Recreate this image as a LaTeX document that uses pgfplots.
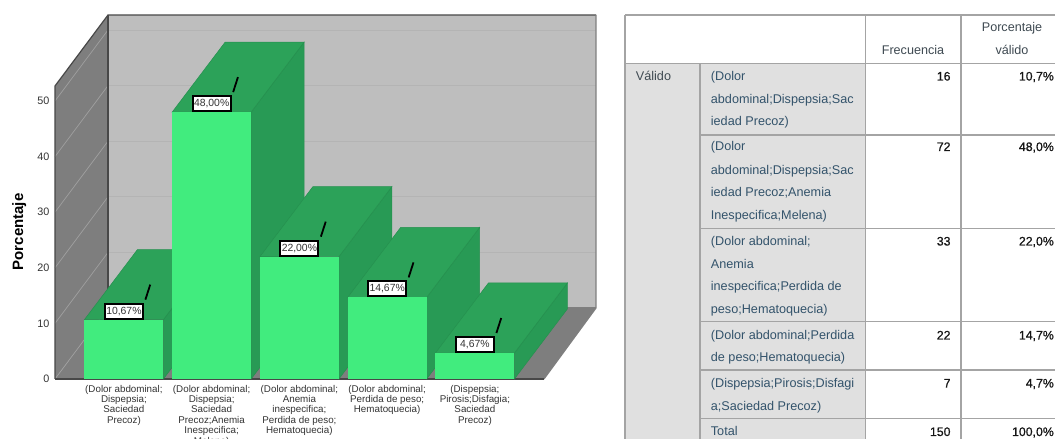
\documentclass[border=0pt]{standalone}
\usepackage{pgfplots}
\usepackage{fontspec}
\setmainfont{Liberation Sans}
\newfontfamily\semib[FakeBold=0.7]{Liberation Sans}
\pgfplotsset{compat=1.18}
\definecolor{front}{HTML}{41EC7E}
\definecolor{topg}{HTML}{2CA259}
\definecolor{sideg}{HTML}{289A55}
\definecolor{edgeg}{HTML}{26904F}
\definecolor{wallb}{HTML}{BEBEBE}
\definecolor{wallg}{HTML}{B4B4B4}
\definecolor{walll}{HTML}{7E7E7E}
\definecolor{walld}{HTML}{A0A0A0}
\definecolor{edged}{HTML}{484848}
\definecolor{ticktxt}{HTML}{333333}
\definecolor{tabline}{HTML}{A4A4A4}
\definecolor{tabfill}{HTML}{E0E0E0}
\definecolor{tabhead}{HTML}{3F4A52}
\definecolor{tabrow}{HTML}{33536B}
\definecolor{tabval}{HTML}{151515}
\begin{document}
\begin{tikzpicture}[x=1pt,y=1pt]
\path[use as bounding box,fill=white] (0,0) rectangle (1055,439);
\begin{axis}[
  at={(55pt,60pt)},
  scale only axis,width=541pt,height=364pt,
  xmin=-0.785,xmax=5.38,ymin=0,ymax=65.47,
  clip=false,
  axis line style={draw=none},
  major tick length=0pt,
  xtick={0,1,2,3,4},
  xticklabels={
    {(Dolor abdominal;\\Dispepsia;\\Saciedad\\Precoz)},
    {(Dolor abdominal;\\Dispepsia;\\Saciedad\\Precoz;Anemia\\Inespecifica;\\Melena)},
    {(Dolor abdominal;\\Anemia\\inespecifica;\\Perdida de peso;\\Hematoquecia)},
    {(Dolor abdominal;\\Perdida de peso;\\Hematoquecia)},
    {(Dispepsia;\\Pirosis;Disfagia;\\Saciedad\\Precoz)}},
  xticklabel style={align=center,text=ticktxt,anchor=north,yshift=-2.5pt,
    font=\fontsize{9.8}{10.4}\selectfont},
  ytick={0,10,20,30,40,50},
  yticklabel style={text=ticktxt,font=\fontsize{10.8}{12}\selectfont,xshift=-2pt},
  /pgf/number format/assume math mode=true,
  ylabel={Porcentaje},
  ylabel style={at={(axis description cs:-0.066,0.404)},anchor=center,
    font=\fontsize{15}{17}\selectfont\bfseries},
]
% back wall, left wall, floor
\addplot[fill=wallb,draw=none,forget plot] coordinates {(-0.181,12.77)(5.38,12.77)(5.38,65.47)(-0.181,65.47)} --cycle;
\addplot[fill=walll,draw=none,forget plot] coordinates {(-0.785,0)(-0.181,12.77)(-0.181,65.47)(-0.785,52.7)} --cycle;
\addplot[fill=walll,draw=none,forget plot] coordinates {(-0.785,0)(4.787,0)(5.38,12.77)(-0.181,12.77)} --cycle;
% grid lines on the walls
\addplot[wallg,line width=1pt,forget plot] coordinates {(-0.181,22.77)(5.38,22.77)};
\addplot[wallg,line width=1pt,forget plot] coordinates {(-0.181,32.77)(5.38,32.77)};
\addplot[wallg,line width=1pt,forget plot] coordinates {(-0.181,42.77)(5.38,42.77)};
\addplot[wallg,line width=1pt,forget plot] coordinates {(-0.181,52.77)(5.38,52.77)};
\addplot[wallg,line width=1pt,forget plot] coordinates {(-0.181,62.77)(5.38,62.77)};
\addplot[walld,line width=0.7pt,forget plot] coordinates {(-0.785,0)(-0.181,12.77)};
\addplot[walld,line width=0.7pt,forget plot] coordinates {(-0.785,10)(-0.181,22.77)};
\addplot[walld,line width=0.7pt,forget plot] coordinates {(-0.785,20)(-0.181,32.77)};
\addplot[walld,line width=0.7pt,forget plot] coordinates {(-0.785,30)(-0.181,42.77)};
\addplot[walld,line width=0.7pt,forget plot] coordinates {(-0.785,40)(-0.181,52.77)};
\addplot[walld,line width=0.7pt,forget plot] coordinates {(-0.785,50)(-0.181,62.77)};
% frame
\addplot[edged,line width=1.2pt,forget plot] coordinates {(-0.785,0)(-0.785,52.7)(-0.181,65.47)(5.38,65.47)};
\addplot[edged,line width=1.2pt,forget plot] coordinates {(-0.181,12.77)(-0.181,65.47)};
\addplot[edged!70!white,line width=1.2pt,forget plot] coordinates {(5.38,65.47)(5.38,12.77)(4.787,0)};
\addplot[edged!70!white,line width=1pt,forget plot] coordinates {(5.38,12.77)(4.5,12.77)};
\addplot[edged,line width=1.2pt,forget plot] coordinates {(-0.785,0)(4.787,0)};
% bar 1
\addplot[fill=sideg,draw=edgeg,line width=0.5pt,forget plot] coordinates {(0.45,0)(1.054,12.6)(1.054,23.27)(0.45,10.67)} --cycle;
\addplot[fill=topg,draw=edgeg,line width=0.5pt,forget plot] coordinates {(-0.45,10.67)(0.45,10.67)(1.054,23.27)(0.154,23.27)} --cycle;
\addplot[ybar,bar width=79pt,fill=front,draw=none,forget plot] coordinates {(0,10.67)};
% bar 2
\addplot[fill=sideg,draw=edgeg,line width=0.5pt,forget plot] coordinates {(1.45,0)(2.054,12.6)(2.054,60.6)(1.45,48)} --cycle;
\addplot[fill=topg,draw=edgeg,line width=0.5pt,forget plot] coordinates {(0.55,48)(1.45,48)(2.054,60.6)(1.154,60.6)} --cycle;
\addplot[ybar,bar width=79pt,fill=front,draw=none,forget plot] coordinates {(1,48)};
% bar 3
\addplot[fill=sideg,draw=edgeg,line width=0.5pt,forget plot] coordinates {(2.45,0)(3.054,12.6)(3.054,34.6)(2.45,22)} --cycle;
\addplot[fill=topg,draw=edgeg,line width=0.5pt,forget plot] coordinates {(1.55,22)(2.45,22)(3.054,34.6)(2.154,34.6)} --cycle;
\addplot[ybar,bar width=79pt,fill=front,draw=none,forget plot] coordinates {(2,22)};
% bar 4
\addplot[fill=sideg,draw=edgeg,line width=0.5pt,forget plot] coordinates {(3.45,0)(4.054,12.6)(4.054,27.27)(3.45,14.67)} --cycle;
\addplot[fill=topg,draw=edgeg,line width=0.5pt,forget plot] coordinates {(2.55,14.67)(3.45,14.67)(4.054,27.27)(3.154,27.27)} --cycle;
\addplot[ybar,bar width=79pt,fill=front,draw=none,forget plot] coordinates {(3,14.67)};
% bar 5
\addplot[fill=sideg,draw=edgeg,line width=0.5pt,forget plot] coordinates {(4.45,0)(5.054,12.6)(5.054,17.27)(4.45,4.67)} --cycle;
\addplot[fill=topg,draw=edgeg,line width=0.5pt,forget plot] coordinates {(3.55,4.67)(4.45,4.67)(5.054,17.27)(4.154,17.27)} --cycle;
\addplot[ybar,bar width=79pt,fill=front,draw=none,forget plot] coordinates {(4,4.67)};
% leader lines
\addplot[black,line width=1.8pt,forget plot] coordinates {(0.245,14.27)(0.30,16.97)};
\addplot[black,line width=1.8pt,forget plot] coordinates {(1.245,51.6)(1.30,54.3)};
\addplot[black,line width=1.8pt,forget plot] coordinates {(2.245,25.6)(2.30,28.3)};
\addplot[black,line width=1.8pt,forget plot] coordinates {(3.245,18.27)(3.30,20.97)};
\addplot[black,line width=1.8pt,forget plot] coordinates {(4.245,8.27)(4.30,10.97)};
% value labels
\addplot[draw=none,forget plot,
  point meta=explicit symbolic,
  nodes near coords,
  every node near coord/.append style={anchor=south,fill=white,draw=black,
    line width=2.1pt,inner sep=0pt,minimum width=38pt,minimum height=15pt,
    text=ticktxt,font=\fontsize{10.4}{11}\selectfont,yshift=0pt},
] coordinates {(0,10.67)[10,67\%] (1,48)[48,00\%] (2,22)[22,00\%] (3,14.67)[14,67\%] (4,4.67)[4,67\%]};
\end{axis}
% frequency table
\begin{scope}[x=1pt,y=-1pt,shift={(0,-439)}]
\fill[tabfill] (625,63) rectangle (866,439);
\draw[tabline,line width=1.3pt]
  (625,15)--(1055,15) (625,63.3)--(1055,63.3)
  (625,15)--(625,439) (700,63.3)--(700,439)
  (865.7,15)--(865.7,439) (961,15)--(961,439)
  (700,135)--(1055,135) (700,228.3)--(1055,228.3)
  (700,321.7)--(1055,321.7) (700,370)--(1055,370) (700,418.3)--(1055,418.3);
\tikzset{hd/.style={text=tabhead,font=\fontsize{12.6}{14}\selectfont,inner sep=0pt,anchor=base},
  rw/.style={text=tabrow,font=\fontsize{12.65}{14}\selectfont,inner sep=0pt,anchor=base west},
  vl/.style={text=tabval,font=\semib\fontsize{12.3}{14}\selectfont,inner sep=0pt,anchor=base east}}
\node[hd] at (913,54.5) {Frecuencia};
\node[hd] at (1012,32) {Porcentaje};
\node[hd] at (1012,54.5) {válido};
\node[rw,text=tabhead] at (635.7,80.5) {Válido};
\node[rw] at (710.7,80.5) {(Dolor};
\node[rw] at (710.7,103.5) {abdominal;Dispepsia;Sac};
\node[rw] at (710.7,126) {iedad Precoz)};
\node[rw] at (710.7,151) {(Dolor};
\node[rw] at (710.7,174.5) {abdominal;Dispepsia;Sac};
\node[rw] at (710.7,197) {iedad Precoz;Anemia};
\node[rw] at (710.7,219.5) {Inespecifica;Melena)};
\node[rw] at (710.7,245.5) {(Dolor abdominal;};
\node[rw] at (710.7,268.5) {Anemia};
\node[rw] at (710.7,290.5) {inespecifica;Perdida de};
\node[rw] at (710.7,313.5) {peso;Hematoquecia)};
\node[rw] at (710.7,339.5) {(Dolor abdominal;Perdida};
\node[rw] at (710.7,361.5) {de peso;Hematoquecia)};
\node[rw] at (710.7,387.5) {(Dispepsia;Pirosis;Disfagi};
\node[rw] at (710.7,410.5) {a;Saciedad Precoz)};
\node[rw] at (710.7,436) {Total};
\node[vl] at (950.7,80.5) {16};
\node[vl] at (950.7,151) {72};
\node[vl] at (950.7,245.5) {33};
\node[vl] at (950.7,339.5) {22};
\node[vl] at (950.7,387.5) {7};
\node[vl] at (950.7,436) {150};
\node[vl] at (1054,80.5) {10,7\%};
\node[vl] at (1054,151) {48,0\%};
\node[vl] at (1054,245.5) {22,0\%};
\node[vl] at (1054,339.5) {14,7\%};
\node[vl] at (1054,387.5) {4,7\%};
\node[vl] at (1054,436) {100,0\%};
\end{scope}
\end{tikzpicture}
\end{document}
